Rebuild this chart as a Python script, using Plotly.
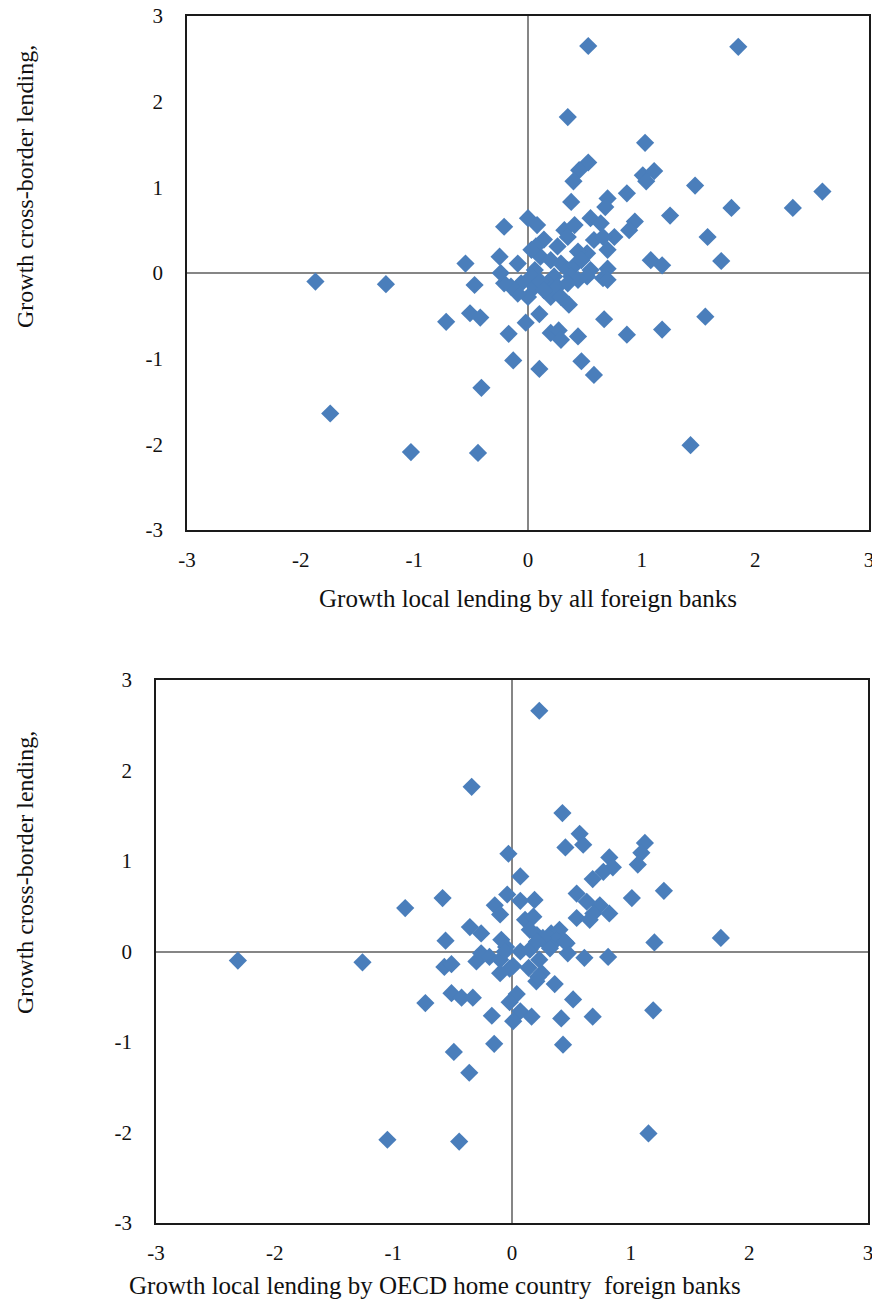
import plotly.graph_objects as go

# ---- Data: top panel (local lending by all foreign banks vs cross-border lending)
top_x = [0.53, 1.85, 0.35, 1.03, 0.53, 0.45, 0.40, 1.01, 1.11, 1.04, 1.47, 2.59, 0.87, 0.70, 0.68,
         0.38, 1.79, 2.33, 1.25, 0.00, 0.08, 0.94, 0.89, 0.55, 0.64, 0.32, 0.41, 0.76, 1.58, 0.35,
         0.14, 0.07, 0.26, 0.58, 0.66, 0.70, 0.52, 0.44, 1.08, 1.18, 1.70, -0.21, -0.25, -0.09, -0.55,
         0.11, 0.20, 0.06, 0.29, 0.35, 0.41, 0.47, 0.70, 0.66, 0.70, 0.55, 0.52, 0.23, 0.17, 0.26,
         0.20, 0.29, 0.03, -0.06, 0.06, 0.00, -0.09, -0.15, -0.21, -0.24, 0.11, 0.14, 0.38, 0.44, 0.35,
         -0.47, 0.36, 0.10, -0.02, -0.72, -0.51, -0.42, -0.17, 0.67, 0.20, 0.27, 0.29, 0.44, 0.87, 1.18,
         1.56, -0.13, 0.10, 0.47, 0.58, -0.41, -1.87, -1.25, -1.74, -1.03, -0.44, 1.43, 0.03]
top_y = [2.65, 2.64, 1.82, 1.52, 1.29, 1.20, 1.07, 1.14, 1.19, 1.07, 1.02, 0.95, 0.93, 0.87, 0.77,
         0.83, 0.76, 0.76, 0.67, 0.64, 0.56, 0.60, 0.50, 0.64, 0.58, 0.50, 0.56, 0.42, 0.42, 0.42,
         0.39, 0.31, 0.31, 0.385, 0.42, 0.27, 0.23, 0.25, 0.15, 0.09, 0.14, 0.54, 0.19, 0.11, 0.11,
         0.19, 0.15, 0.035, 0.11, 0.035, 0.09, 0.15, 0.05, -0.06, -0.08, 0.035, -0.04, -0.04, -0.12, -0.16,
         -0.28, -0.28, -0.04, -0.12, -0.16, -0.28, -0.24, -0.16, -0.12, 0.00, -0.10, -0.20, -0.04, -0.08, -0.12,
         -0.14, -0.37, -0.48, -0.58, -0.57, -0.47, -0.52, -0.71, -0.54, -0.70, -0.67, -0.78, -0.74, -0.72, -0.66,
         -0.51, -1.02, -1.12, -1.03, -1.19, -1.34, -0.10, -0.13, -1.64, -2.09, -2.10, -2.01, 0.27]

# ---- Data: bottom panel (local lending by OECD home country foreign banks vs cross-border lending)
bot_x = [0.23, 0.425, -0.34, 0.57, 0.60, 0.45, 1.12, 1.09, 1.06, 0.82, 0.85, 0.77, 0.68, -0.03, 0.07,
         1.28, 1.01, 0.545, 0.63, 0.74, 0.82, 0.685, 0.545, 0.655, 0.19, 0.07, -0.04, 0.11, 0.18, 0.15,
         0.21, 1.20, 1.76, 0.33, 0.40, 0.375, 0.29, 0.46, 0.32, 0.07, 0.15, 0.47, 0.61, 0.81, 0.01,
         0.14, 0.25, 0.205, 0.36, 0.04, -0.02, 0.515, 0.07, 0.165, 0.01, 0.415, 0.68, 1.19, 0.43, 1.15,
         -2.31, -1.26, -0.57, -0.51, -0.30, -0.26, -0.19, -0.10, -0.02, -0.10, -0.73, -0.51, -0.425, -0.33, -0.17,
         -0.15, -0.49, -0.36, -1.05, -0.445, -0.90, -0.585, -0.145, -0.10, -0.355, -0.26, -0.56, -0.09, -0.05, 0.22,
         0.23, -0.06, 0.26, 0.21, 0.445]
bot_y = [2.66, 1.53, 1.82, 1.30, 1.18, 1.15, 1.20, 1.09, 0.96, 1.04, 0.93, 0.88, 0.80, 1.08, 0.83,
         0.67, 0.59, 0.64, 0.55, 0.51, 0.42, 0.42, 0.37, 0.35, 0.57, 0.56, 0.63, 0.35, 0.385, 0.24,
         0.18, 0.10, 0.15, 0.20, 0.24, 0.13, 0.09, 0.09, 0.035, 0.00, 0.02, -0.02, -0.07, -0.06, -0.16,
         -0.18, -0.24, -0.33, -0.36, -0.47, -0.56, -0.53, -0.66, -0.72, -0.77, -0.74, -0.72, -0.65, -1.03, -2.01,
         -0.10, -0.12, -0.17, -0.14, -0.11, -0.02, -0.06, -0.09, -0.19, -0.24, -0.57, -0.46, -0.51, -0.51, -0.71,
         -1.02, -1.11, -1.34, -2.08, -2.10, 0.48, 0.59, 0.51, 0.41, 0.27, 0.20, 0.12, 0.13, 0.05, -0.28,
         -0.09, 0.00, 0.15, 0.11, 0.11]

tick_vals = [-3, -2, -1, 0, 1, 2, 3]
tick_text = ["-3", "-2", "-1", "0", "1", "2", "3"]

top_xtitle = "Growth local lending by all foreign banks"
bot_xtitle = "Growth local lending by OECD home country  foreign banks"
ytitle = "Growth cross-border lending,"

# page offset of the figure (default body margin) and figure size fitting the window
OFF = 8
W, H = 880 - OFF, 1307 - 2 * OFF
FONT = "Liberation Serif, Times New Roman, serif"
COLOR = "#4a7ebb"
TXT = "#111111"

fig = go.Figure()
fig.add_trace(go.Scatter(x=top_x, y=top_y, mode="markers", xaxis="x", yaxis="y",
                         marker=dict(symbol="diamond", size=14, color=COLOR, line=dict(width=0)),
                         showlegend=False, hoverinfo="x+y"))
fig.add_trace(go.Scatter(x=bot_x, y=bot_y, mode="markers", xaxis="x2", yaxis="y2",
                         marker=dict(symbol="diamond", size=14, color=COLOR, line=dict(width=0)),
                         showlegend=False, hoverinfo="x+y"))

def px_x(p):
    return (p - OFF) / W

def px_y(p):
    return 1 - (p - OFF) / H

axis_common = dict(range=[-3, 3], tickvals=tick_vals, ticktext=tick_text, showgrid=False,
                   zeroline=True, zerolinecolor="#868686", zerolinewidth=1.5,
                   showline=True, linecolor="#1a1a1a", linewidth=1.5, mirror=True,
                   ticks="", tickfont=dict(family=FONT, size=21, color=TXT),
                   ticklabeloverflow="allow",
                   automargin=False, fixedrange=True)

fig.update_layout(
    template="none",
    width=W, height=H,
    margin=dict(l=0, r=0, t=0, b=0, pad=0, autoexpand=False),
    paper_bgcolor="white", plot_bgcolor="white",
    font=dict(family=FONT, size=21, color=TXT),
    xaxis=dict(domain=[px_x(187), px_x(869)], anchor="y", ticklabelstandoff=10, **axis_common),
    yaxis=dict(domain=[px_y(530), px_y(16)], anchor="x", ticklabelstandoff=18, **axis_common),
    xaxis2=dict(domain=[px_x(156), px_x(868)], anchor="y2", ticklabelstandoff=10, **axis_common),
    yaxis2=dict(domain=[px_y(1223), px_y(680)], anchor="x2", ticklabelstandoff=18, **axis_common),
    annotations=[
        dict(text=top_xtitle, x=px_x(528), y=px_y(598), xref="paper", yref="paper",
             showarrow=False, font=dict(family=FONT, size=25, color=TXT),
             xanchor="center", yanchor="middle"),
        dict(text=bot_xtitle, x=px_x(435), y=px_y(1285), xref="paper", yref="paper",
             showarrow=False, font=dict(family=FONT, size=25, color=TXT),
             xanchor="center", yanchor="middle"),
        dict(text=ytitle, x=px_x(25), y=px_y(187), xref="paper", yref="paper", textangle=-90,
             showarrow=False, font=dict(family=FONT, size=24, color=TXT),
             xanchor="center", yanchor="middle"),
        dict(text=ytitle, x=px_x(25), y=px_y(873), xref="paper", yref="paper", textangle=-90,
             showarrow=False, font=dict(family=FONT, size=24, color=TXT),
             xanchor="center", yanchor="middle"),
    ],
)

fig.write_html("out.html")
